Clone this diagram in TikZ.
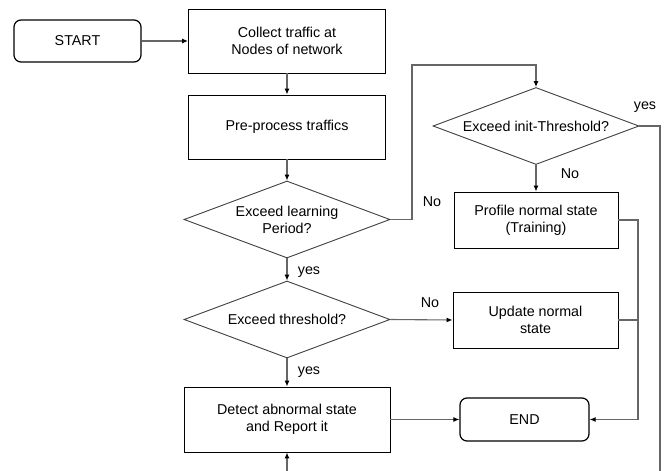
\documentclass[tikz,border=0pt]{standalone}
\usepackage{fontspec}
\setmainfont{Liberation Sans}
\usetikzlibrary{shapes.geometric,arrows.meta}
\begin{document}
\begin{tikzpicture}[x=1pt,y=-1pt,
  every node/.style={font=\fontsize{14.3}{16.8}\selectfont, align=center},
  box/.style={draw=black, line width=0.9pt, rectangle, inner sep=0pt},
  rbox/.style={box, rounded corners=7pt, line width=1.2pt},
  dia/.style={draw=black!75, line width=0.9pt, diamond, aspect=2.7, inner sep=0pt, minimum width=206pt, minimum height=77pt},
  conn/.style={draw=black!60, line width=1.1pt},
  arr/.style={conn, -{Latex[length=6pt,width=5pt,black]}},
  lbl/.style={inner sep=0pt}
]
\useasboundingbox (0,0) rectangle (664,471);
\fill[white] (0,0) rectangle (664,471);

\node[rbox, minimum width=127pt, minimum height=42pt] (start) at (77.5,41) {START};
\node[box, minimum width=197pt, minimum height=64pt] (collect) at (287,41) {Collect traffic at\\Nodes of network};
\node[box, minimum width=197pt, minimum height=64pt] (pre) at (287,127) {Pre-process traffics};
\node[dia] (learn) at (287,219.5) {Exceed learning\\Period?};
\node[dia] (init) at (536,126) {Exceed init-Threshold?};
\node[box, minimum width=164pt, minimum height=56pt] (profile) at (536,220) {Profile normal state\\(Training)};
\node[dia] (thresh) at (287,319.5) {Exceed threshold?};
\node[box, minimum width=165pt, minimum height=56pt] (update) at (535.5,320) {Update normal\\state};
\node[box, minimum width=206pt, minimum height=65pt] (detect) at (287,419.5) {Detect abnormal state\\and Report it};
\node[rbox, minimum width=129pt, minimum height=43pt] (end) at (524.5,419.5) {END};

\coordinate (c1) at (412,65);
\coordinate (c2) at (638,220);
\coordinate (c3) at (638,320);
\coordinate (bot1) at (660,471);
\coordinate (bot2) at (287,471);

\draw[arr] (start.east) -- (collect.west);
\draw[arr] (collect.south) -- (pre.north);
\draw[arr] (pre.south) -- (learn.north);
\draw[arr] (learn.east) -| (c1) -| (init.north);
\draw[arr] (init.south) -- (profile.north);
\draw[conn] (init.east) -| (bot1);
\draw[arr] (learn.south) -- (thresh.north);
\draw[arr] (thresh.east) -- (update.west);
\draw[arr] (thresh.south) -- (detect.north);
\draw[arr] (detect.east) -- (end.west);
\draw[arr] (profile.east) -- (c2) |- (end.east);
\draw[conn] (update.east) -- (c3);
\draw[arr] (bot2) -- (detect.south);

\node[lbl] (l1) at (432,202) {No};
\node[lbl] (l2) at (570,174) {No};
\node[lbl] (l3) at (645,107) {yes};
\node[lbl] (l4) at (309,272) {yes};
\node[lbl] (l5) at (430,303) {No};
\node[lbl] (l6) at (309,372) {yes};
\end{tikzpicture}
\end{document}
